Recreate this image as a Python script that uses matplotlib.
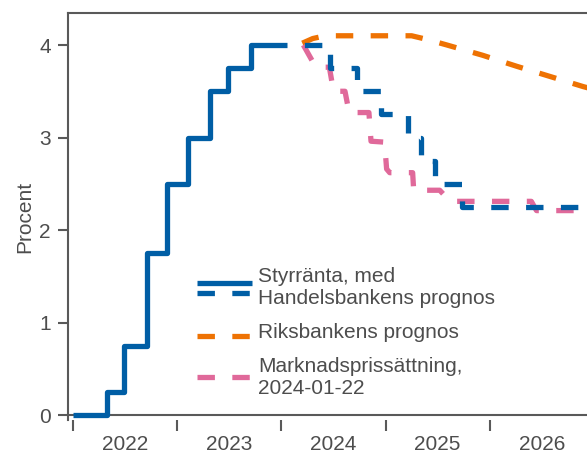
import matplotlib.pyplot as plt
from matplotlib.ticker import FixedLocator, NullFormatter, FixedFormatter

plt.rcParams['font.family'] = ['Liberation Sans', 'DejaVu Sans']

# Styrränta (utfall), årtal som decimaltal
hist_dates = [2022.0, 2022.32, 2022.49, 2022.71, 2022.90, 2023.10, 2023.31, 2023.49, 2023.71, 2024.05]
hist_rate = [0.0, 0.25, 0.75, 1.75, 2.5, 3.0, 3.5, 3.75, 4.0, 4.0]

# Handelsbankens prognos
shb_dates = [2024.05, 2024.47, 2024.73, 2024.96, 2025.22, 2025.34, 2025.47, 2025.73, 2027.0]
shb_rate = [4.0, 3.75, 3.5, 3.25, 3.0, 2.75, 2.5, 2.25, 2.25]

# Riksbankens prognos
rb_dates = [2024.20, 2024.30, 2024.42, 2025.25, 2025.40, 2025.59, 2025.93, 2026.26, 2026.58, 2026.90, 2027.0]
rb_rate = [4.02, 4.07, 4.10, 4.10, 4.06, 4.00, 3.89, 3.77, 3.66, 3.55, 3.52]

# Marknadsprissättning 2024-01-22
mkt_dates = [2024.21, 2024.30, 2024.34, 2024.46, 2024.50, 2024.61, 2024.65, 2024.84, 2024.86,
             2024.99, 2025.01, 2025.04, 2025.26, 2025.27, 2025.52, 2025.62, 2026.40, 2026.45, 2027.0]
mkt_rate = [4.0, 3.82, 3.76, 3.76, 3.5, 3.5, 3.27, 3.27, 2.96,
            2.95, 2.66, 2.62, 2.62, 2.43, 2.43, 2.31, 2.31, 2.21, 2.21]

years = [2022, 2023, 2024, 2025, 2026]

blue = '#005EA5'
orange = '#EE7203'
pink = '#E0699A'
grey = '#595959'
txt = '#4D4D4D'
lw = 3.8
dash = (0, (3.3, 3.3))

fig = plt.figure(figsize=(5.87, 4.54), dpi=100)
ax = fig.add_axes([68.3 / 587, 1 - 420 / 454, 1 - 68.3 / 587, (420 - 13.3) / 454])

ax.axhline(0, color=grey, lw=1.5, zorder=1)

ax.plot(rb_dates, rb_rate, color=orange, lw=lw, ls=dash, dash_capstyle='butt', zorder=2)
ax.plot(mkt_dates, mkt_rate, color=pink, lw=lw, ls=dash, dash_capstyle='butt',
        dash_joinstyle='round', zorder=3)
ax.plot(shb_dates, shb_rate, color=blue, lw=lw, ls=(3.3, (3.3, 3.3)), drawstyle='steps-post',
        dash_capstyle='butt', zorder=4)
ax.plot(hist_dates, hist_rate, color=blue, lw=lw, drawstyle='steps-post',
        solid_joinstyle='round', solid_capstyle='butt', zorder=5)

ax.set_xlim(2021.952, 2026.935)
ax.set_ylim(-0.054, 4.343)

for s in ['right', 'bottom']:
    ax.spines[s].set_visible(False)
for s in ['left', 'top']:
    ax.spines[s].set_color(grey)
    ax.spines[s].set_linewidth(1.5)

ax.set_yticks([0, 1, 2, 3, 4])
ax.tick_params(axis='y', length=7.5, width=1.5, color=grey, pad=5, labelsize=15, labelcolor=txt)

ax.xaxis.set_major_locator(FixedLocator(years + [2027]))
ax.xaxis.set_major_formatter(NullFormatter())
ax.xaxis.set_minor_locator(FixedLocator([y + 0.5 for y in years]))
ax.xaxis.set_minor_formatter(FixedFormatter([str(y) for y in years]))
ax.tick_params(axis='x', which='major', length=8, width=1.5, color=grey)
ax.tick_params(axis='x', which='minor', length=0, pad=11, labelsize=15, labelcolor=txt)

ax.set_ylabel('Procent', fontsize=15, color=txt, labelpad=3.5)

# legend drawn by hand
hx = [0.2487, 0.3536]
tx = 0.3663
ax.plot(hx, [0.3376, 0.3376], color=blue, lw=lw, transform=ax.transAxes, solid_capstyle='butt', zorder=6)
ax.plot(hx, [0.3115, 0.3115], color=blue, lw=lw, ls=dash, dash_capstyle='butt', transform=ax.transAxes, zorder=6)
ax.plot(hx, [0.2065, 0.2065], color=orange, lw=lw, ls=dash, dash_capstyle='butt', transform=ax.transAxes, zorder=6)
ax.plot(hx, [0.105, 0.105], color=pink, lw=lw, ls=dash, dash_capstyle='butt', transform=ax.transAxes, zorder=6)
ax.text(tx, 0.3253, 'Styrränta, med\nHandelsbankens prognos', transform=ax.transAxes,
        fontsize=15, color=txt, va='center', ha='left', linespacing=1.2)
ax.text(tx, 0.2147, 'Riksbankens prognos', transform=ax.transAxes,
        fontsize=15, color=txt, va='center', ha='left')
ax.text(tx, 0.1033, 'Marknadsprissättning,\n2024-01-22', transform=ax.transAxes,
        fontsize=15, color=txt, va='center', ha='left', linespacing=1.2)

fig.savefig('out.png', dpi=100)
